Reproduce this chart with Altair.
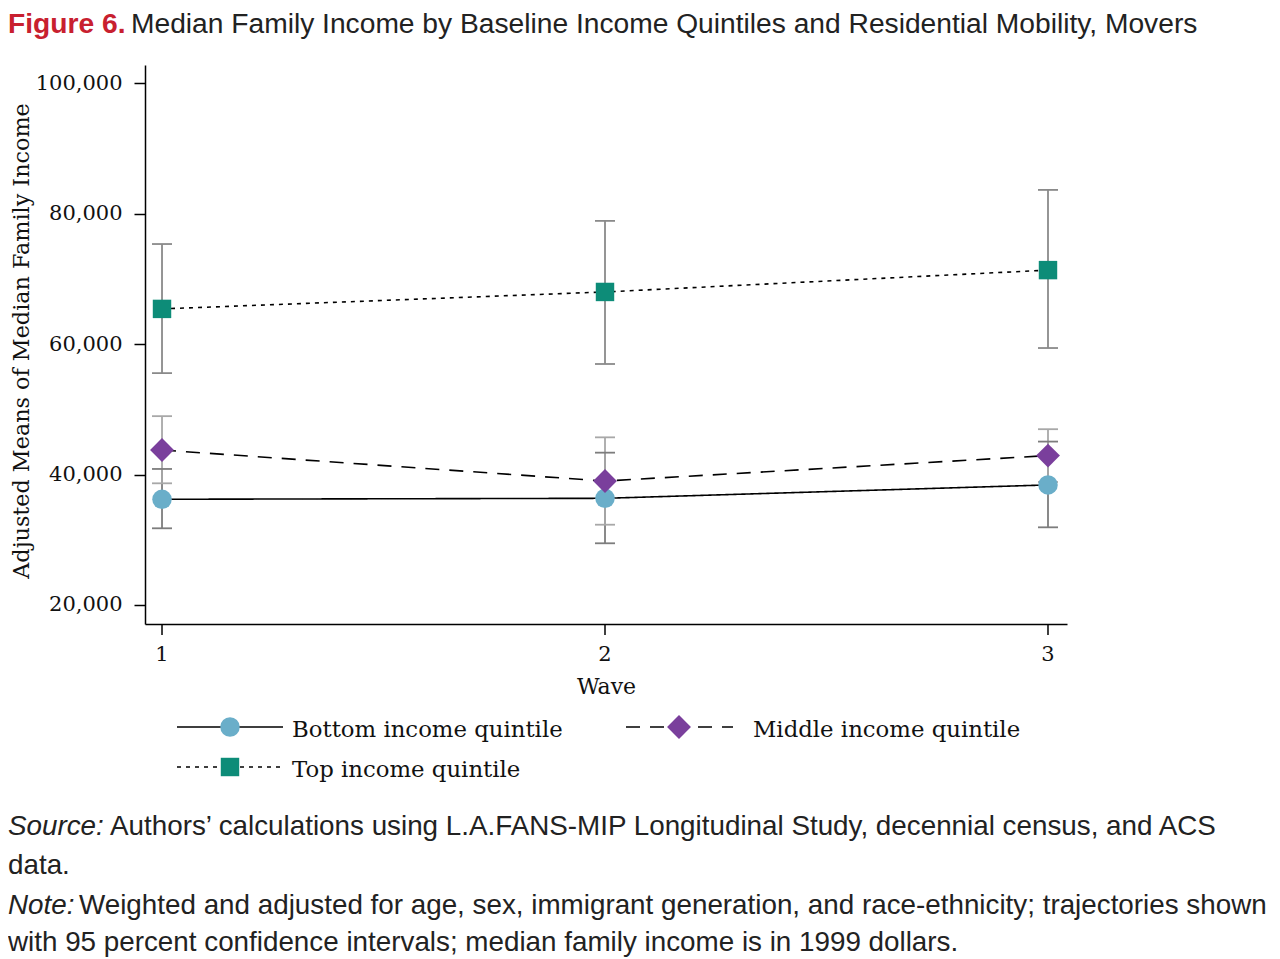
import altair as alt
import pandas as pd

# ---------------- data ----------------
series = ["Bottom income quintile", "Middle income quintile", "Top income quintile"]
waves = [1, 2, 3]
bottom_mean = [36200, 36350, 38400]
bottom_lo = [31750, 29450, 31900]
bottom_hi = [40850, 43350, 45050]
middle_mean = [43750, 39000, 42900]
middle_lo = [38650, 32300, 38850]
middle_hi = [48950, 45700, 46950]
top_mean = [65400, 68000, 71350]
top_lo = [55550, 56950, 59400]
top_hi = [75350, 78900, 83650]
y_ticks = [20000, 40000, 60000, 80000, 100000]
x_ticks = [1, 2, 3]

title_lead = "Figure 6."
title_rest = "Median Family Income by Baseline Income Quintiles and Residential Mobility, Movers"
y_title = "Adjusted Means of Median Family Income"
x_title = "Wave"
source_lead = "Source:"
source_rest = "Authors’ calculations using L.A.FANS-MIP Longitudinal Study, decennial census, and ACS"
source_cont = "data."
note_lead = "Note:"
note_rest = "Weighted and adjusted for age, sex, immigrant generation, and race-ethnicity; trajectories shown"
note_cont = "with 95 percent confidence intervals; median family income is in 1999 dollars."

means = [bottom_mean, middle_mean, top_mean]
los = [bottom_lo, middle_lo, top_lo]
his = [bottom_hi, middle_hi, top_hi]

# ---------------- styles ----------------
marker_colors = ["#6aaec9", "#7a3f9c", "#0d8c78"]
marker_shapes = ["circle", "diamond", "square"]
marker_sizes = [380, 570, 340]
dashes = [[1, 0], [14, 10], [4, 5]]
ci_colors = ["#7d7d7d", "#a8a8a8", "#8a8a8a"]

SERIF = "DejaVu Serif"
SANS = "Liberation Sans, Arial, sans-serif"

W, H = 922, 559
PAD_L, PAD_T = 137, 57
TOT_W, TOT_H = 1264, 951

xscale = alt.Scale(domain=[0.9616, 3.0429], nice=False, zero=False)
yscale = alt.Scale(domain=[17070, 102810], nice=False, zero=False)

# x axis: domain line and title from Vega-Lite; ticks and labels drawn as marks below
xaxis = alt.Axis(values=x_ticks, ticks=False, labels=False, title=x_title, grid=False,
                 domainColor="black", domainWidth=1.5,
                 titleFont=SERIF, titleFontSize=22, titleFontWeight="normal",
                 titleColor="#111", titleY=69, titleBaseline="alphabetic")
yaxis = alt.Axis(values=y_ticks, format=",d", title=y_title, grid=False,
                 labelOverlap=False,
                 labelFont=SERIF, labelFontSize=21, labelColor="#111",
                 labelPadding=12, tickSize=11, tickColor="black", tickWidth=1.5,
                 domainColor="black", domainWidth=1.5,
                 titleFont=SERIF, titleFontSize=22.3, titleFontWeight="normal",
                 titleColor="#111", titleAngle=270, titleX=-117, titleY=275.5,
                 titleAlign="center", titleBaseline="alphabetic")

X = alt.X("wave:Q", scale=xscale, axis=xaxis)

ci_layers, cap_layers, line_layers, pt_layers = [], [], [], []
for i, name in enumerate(series):
    df = pd.DataFrame({"wave": waves, "mean": means[i], "lo": los[i], "hi": his[i]})
    base = alt.Chart(df)
    ci_layers.append(
        base.mark_rule(color=ci_colors[i], strokeWidth=1.8).encode(
            x=X, y=alt.Y("lo:Q", scale=yscale, axis=yaxis), y2="hi:Q"))
    for fld in ["lo", "hi"]:
        cap_layers.append(
            base.mark_rule(color=ci_colors[i], strokeWidth=1.8, xOffset=-10, x2Offset=10).encode(
                x=X, x2="wave:Q", y=alt.Y(f"{fld}:Q", scale=yscale, axis=yaxis)))
    line_layers.append(
        base.mark_line(color="black", strokeWidth=1.6, strokeDash=dashes[i]).encode(
            x=X, y=alt.Y("mean:Q", scale=yscale, axis=yaxis)))
    pt_layers.append(
        base.mark_point(filled=True, opacity=1, shape=marker_shapes[i], size=marker_sizes[i],
                        color=marker_colors[i], strokeWidth=0).encode(
            x=X, y=alt.Y("mean:Q", scale=yscale, axis=yaxis)))

# x tick marks and tick labels, placed through the x scale
xt = pd.DataFrame({"t": x_ticks, "lab": [str(v) for v in x_ticks]})
xtick_layer = alt.Chart(xt).mark_rule(color="black", strokeWidth=1.5).encode(
    x=alt.X("t:Q", scale=xscale, axis=xaxis), y=alt.value(H), y2=alt.value(H + 11))
xlabel_layer = alt.Chart(xt).mark_text(font=SERIF, fontSize=21, color="#111",
                                       baseline="alphabetic", align="center").encode(
    x=alt.X("t:Q", scale=xscale, axis=xaxis), y=alt.value(H + 37), text="lab:N")

one = pd.DataFrame({"k": [0]})

def txt(text, x, y, size, font, color="#111", weight="normal", style="normal", baseline="alphabetic"):
    return alt.Chart(one).mark_text(text=text, align="left", baseline=baseline, font=font,
                                    fontSize=size, fontWeight=weight, fontStyle=style,
                                    color=color).encode(x=alt.value(x), y=alt.value(y))

# custom legend (pixel layout relative to the plot origin)
leg = [
    # line x0, x1, marker x, row y, label x
    (32, 138, 85, 662, 147),
    (481, 588, 534, 662, 608),
    (32, 135, 85, 702, 147),
]
legend_layers = []
for i, name in enumerate(series):
    x0, x1, xm, yy, xl = leg[i]
    legend_layers.append(
        alt.Chart(one).mark_rule(color="black", strokeWidth=1.6, strokeDash=dashes[i]).encode(
            x=alt.value(x0), x2=alt.value(x1), y=alt.value(yy)))
    legend_layers.append(
        alt.Chart(one).mark_point(filled=True, opacity=1, shape=marker_shapes[i], size=marker_sizes[i],
                                  color=marker_colors[i], strokeWidth=0).encode(
            x=alt.value(xm), y=alt.value(yy)))
    legend_layers.append(txt(name, xl, yy + 10, 22.8, SERIF))

FS = 27.8
TS = 28.2
text_layers = [
    txt(title_lead, -137, -32, TS, SANS, color="#c8202f", weight="bold"),
    txt(title_rest, -14, -32, TS, SANS, color="#222"),
    txt(source_lead, -137, 770, FS, SANS, color="#222", style="italic"),
    txt(source_rest, -35, 770, FS, SANS, color="#222"),
    txt(source_cont, -137, 809, FS, SANS, color="#222"),
    txt(note_lead, -137, 849, FS, SANS, color="#222", style="italic"),
    txt(note_rest, -66, 849, FS, SANS, color="#222"),
    txt(note_cont, -137, 886, FS, SANS, color="#222"),
]

chart = alt.layer(*ci_layers, *cap_layers, *line_layers, *pt_layers,
                  xtick_layer, xlabel_layer,
                  *legend_layers, *text_layers).properties(
    width=W, height=H,
    autosize=alt.AutoSizeParams(type="none"),
    padding={"left": PAD_L, "top": PAD_T, "right": TOT_W - PAD_L - W, "bottom": TOT_H - PAD_T - H},
    background="white",
).configure_view(stroke=None)

chart.save("out.html", embed_options={"renderer": "svg", "actions": False})
